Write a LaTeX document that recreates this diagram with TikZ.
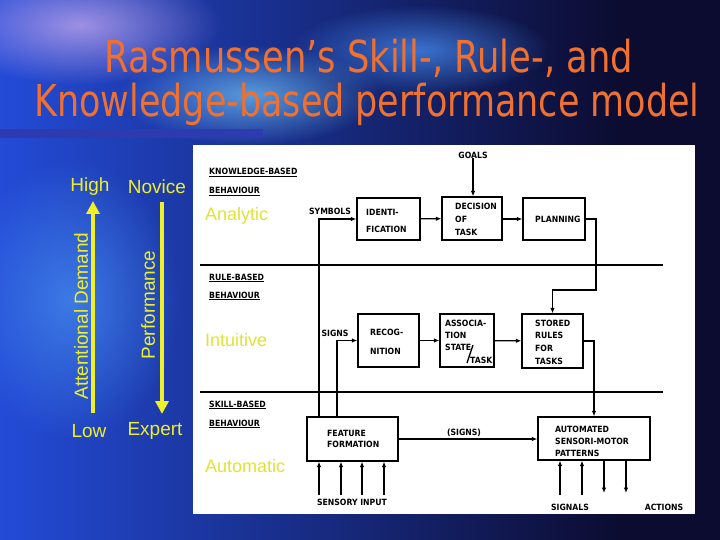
\documentclass[tikz,border=0pt]{standalone}
\usepackage{graphicx}
\usepackage{fontspec}
\setmainfont{Liberation Sans}
\newfontfamily\titlefont{DejaVu Sans Condensed}
\newfontfamily\dfont{DejaVu Sans Condensed}
\usetikzlibrary{arrows.meta,fadings}
\definecolor{bgdark}{RGB}{12,12,48}
\definecolor{bgblue}{RGB}{35,75,215}
\definecolor{titleor}{RGB}{240,112,48}
\definecolor{yel}{RGB}{240,240,40}
\definecolor{yelw}{RGB}{226,226,50}
\definecolor{barc}{RGB}{45,58,176}
\definecolor{lav}{RGB}{200,170,240}
\definecolor{lcyan}{RGB}{110,190,245}
\definecolor{mblue}{RGB}{70,140,240}
\tikzfading[name=glow, inner color=transparent!25, outer color=transparent!100]
\tikzset{
  box/.style={draw=black, line width=1.3pt, fill=white, inner sep=0pt},
  lbl/.style={inner sep=0pt, font=\dfont\bfseries\fontsize{8.6}{10}\selectfont},
  hdr/.style={lbl, anchor=base west},
  lines/.style={inner sep=0pt, align=left, anchor=west, font=\dfont\bfseries\fontsize{8.6}{#1}\selectfont},
  conn/.style={line width=1.3pt, -{Latex[length=5.5pt,width=4.5pt]}},
  wire/.style={line width=1.3pt},
  divider/.style={line width=2.6pt},
  ytext/.style={text=yel, inner sep=0pt, font=\fontsize{19}{22}\selectfont},
  ysmall/.style={text=yelw, inner sep=0pt, font=\fontsize{18}{20}\selectfont, anchor=west},
  yarrow/.style={draw=yel, line width=4pt, -{Triangle[length=13pt,width=13pt]}},
  titletext/.style={text=titleor, inner sep=0pt, anchor=base, font=\titlefont\fontsize{44}{48}\selectfont},
}
\begin{document}
\begin{tikzpicture}[x=1pt,y=-1pt]
\useasboundingbox (0,0) rectangle (720,540);
% background
\fill[bgdark] (0,0) rectangle (720,540);
\shade[left color=bgblue, right color=bgdark] (0,0) rectangle (620,540);
\fill[lav, path fading=glow] (80,25) ellipse [x radius=140, y radius=60];
\fill[lcyan, path fading=glow] (250,95) ellipse [x radius=130, y radius=50];
\fill[mblue, path fading=glow] (420,50) ellipse [x radius=130, y radius=45];
\fill[mblue, path fading=glow] (70,300) ellipse [x radius=110, y radius=140];
% title
\node[titletext] (t1) at (369,73) {\resizebox{528pt}{\height}{Rasmussen’s Skill-, Rule-, and}};
\node[titletext] (t2) at (367,117) {\resizebox{665pt}{\height}{Knowledge-based performance model}};
% bar
\fill[barc] (0,129) rectangle (263,138);
% left scale
\node[ytext] (high) at (90,187) {High};
\node[ytext] (novice) at (157,187) {Novice};
\node[ytext] (low) at (89,431) {Low};
\node[ytext] (expert) at (155,431) {Expert};
\coordinate (ua) at (93,413);
\coordinate (ub) at (93,201);
\coordinate (da) at (162,202);
\coordinate (db) at (162,414);
\draw[yarrow] (ua) -- (ub);
\draw[yarrow] (da) -- (db);
\node[ytext, rotate=90] (att) at (81,316) {Attentional Demand};
\node[ytext, rotate=90] (perf) at (148,305) {Performance};
% panel
\fill[white] (193,145) rectangle (695,514);
% dividers
\coordinate (d1l) at (200,265); \coordinate (d1r) at (663,265);
\coordinate (d2l) at (200,392); \coordinate (d2r) at (663,392);
\draw[divider] (d1l) -- (d1r);
\draw[divider] (d2l) -- (d2r);
% headers
\node[hdr] (kb1) at (209,175) {\underline{KNOWLEDGE-BASED}};
\node[hdr] (kb2) at (209,194) {\underline{BEHAVIOUR}};
\node[hdr] (rb1) at (209,280) {\underline{RULE-BASED}};
\node[hdr] (rb2) at (209,298) {\underline{BEHAVIOUR}};
\node[hdr] (sb1) at (209,407) {\underline{SKILL-BASED}};
\node[hdr] (sb2) at (209,426) {\underline{BEHAVIOUR}};
\node[ysmall] (analytic) at (205,216) {Analytic};
\node[ysmall] (intuitive) at (205,340) {Intuitive};
\node[ysmall] (automatic) at (205,466) {Automatic};
% boxes
\node[box, minimum width=63pt, minimum height=42pt] (ident) at (388.5,219) {};
\node[box, minimum width=60pt, minimum height=43pt] (decis) at (472,218.5) {};
\node[box, minimum width=62pt, minimum height=42pt] (plan) at (554,219) {};
\node[box, minimum width=61pt, minimum height=53pt] (recog) at (388.5,340.5) {};
\node[box, minimum width=54pt, minimum height=53pt] (assoc) at (467,340.5) {};
\node[box, minimum width=61pt, minimum height=54pt] (stored) at (552.5,341) {};
\node[box, minimum width=91pt, minimum height=44pt] (feat) at (352.5,439) {};
\node[box, minimum width=112pt, minimum height=43pt] (auto) at (594,438.5) {};
% box texts
\node[lines=17] (identT) at (366,220.5) {IDENTI-\\FICATION};
\node[lines=13] (decisT) at (455,219) {DECISION\\OF\\TASK};
\node[lines=10] (planT) at (535,219) {PLANNING};
\node[lines=19] (recogT) at (370,341.5) {RECOG-\\NITION};
\node[lines=12.3] (assocT) at (445,341.5) {ASSOCIA-\\TION\\STATE\\\hspace*{25pt}TASK};
\coordinate (sl1) at (473,345); \coordinate (sl2) at (467,363);
\draw[wire] (sl1) -- (sl2);
\node[lines=12.7] (storedT) at (535,342) {STORED\\RULES\\FOR\\TASKS};
\node[lines=11] (featT) at (327,438.5) {FEATURE\\FORMATION};
\node[lines=12] (autoT) at (555,441) {AUTOMATED\\SENSORI-MOTOR\\PATTERNS};
% labels
\node[lbl] (goals) at (473,155) {GOALS};
\node[lbl] (symbols) at (330,211) {SYMBOLS};
\node[lbl] (signs) at (335,333) {SIGNS};
\node[lbl] (signs2) at (464,433) {(SIGNS)};
\node[lbl] (sensory) at (352,502) {SENSORY INPUT};
\node[lbl] (signals) at (570,507) {SIGNALS};
\node[lbl] (actions) at (664,507) {ACTIONS};
% connectors
\draw[conn] (goals.south) -- (goals.south |- decis.north);
\draw[conn] (ident) -- (decis);
\draw[conn] (decis.east |- plan.west) -- (plan.west);
\coordinate (symx) at (319,0);
\coordinate (sigx) at (337,0);
\draw[conn] (feat.north -| symx) |- (ident.west);
\draw[conn] (feat.north -| sigx) |- (recog.west);
\coordinate (pr) at (596,290);
\draw[conn] (plan.east) -| (pr) -| (stored.north);
\draw[conn] (recog) -- (assoc);
\draw[conn] (assoc) -- (stored);
\draw[conn] (stored.east) -| (auto.north);
\draw[conn] (feat.east) -- (feat.east -| auto.west);
\coordinate (s1) at (319,495); \coordinate (s2) at (341,495);
\coordinate (s3) at (362,495); \coordinate (s4) at (384,495);
\foreach \s in {s1,s2,s3,s4} \draw[conn] (\s) -- (\s |- feat.south);
\coordinate (a1) at (560,495); \coordinate (a2) at (582,495);
\coordinate (a3) at (604,493); \coordinate (a4) at (626,493);
\foreach \s in {a1,a2} \draw[conn] (\s) -- (\s |- auto.south);
\foreach \s in {a3,a4} \draw[conn] (\s |- auto.south) -- (\s);
\end{tikzpicture}
\end{document}
